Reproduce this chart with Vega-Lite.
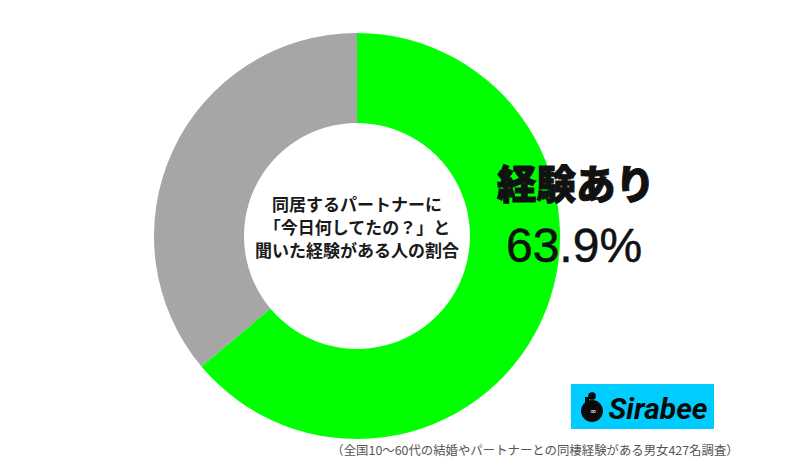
{
  "$schema": "https://vega.github.io/schema/vega-lite/v6.json",
  "width": 714,
  "height": 472,
  "autosize": {"type": "none"},
  "padding": {"left": 0, "top": 0, "right": 86, "bottom": 3},
  "background": "white",
  "view": {"stroke": null},
  "layer": [
    {
      "data": {"values": [
        {"answer": "経験あり", "percent": 63.9, "rank": 1},
        {"answer": "経験なし", "percent": 36.1, "rank": 2}
      ]},
      "mark": {"type": "arc", "radius": 203, "radius2": 113},
      "encoding": {
        "theta": {"field": "percent", "type": "quantitative", "stack": true},
        "order": {"field": "rank", "type": "ordinal"},
        "color": {
          "field": "answer",
          "type": "nominal",
          "legend": null,
          "scale": {"domain": ["経験あり", "経験なし"], "range": ["#00ff00", "#a6a6a6"]}
        }
      }
    },
    {
      "data": {"values": [{"label": "同居するパートナーに\n「今日何してたの？」と\n聞いた経験がある人の割合"}]},
      "mark": {"type": "text", "x": 357, "y": 206, "lineBreak": "\n", "lineHeight": 23, "font": "Noto Sans CJK JP", "fontWeight": "bold", "fontSize": 17, "color": "#1a1a1a"},
      "encoding": {"text": {"field": "label"}}
    },
    {
      "data": {"values": [{"label": "経験あり"}]},
      "mark": {"type": "text", "x": 576, "y": 187, "font": "Noto Sans CJK JP", "fontWeight": 900, "fontSize": 39.5, "color": "#111111", "stroke": "#111111", "strokeWidth": 1},
      "encoding": {"text": {"field": "label"}}
    },
    {
      "data": {"values": [{"label": "63.9%"}]},
      "mark": {"type": "text", "x": 574, "y": 248, "font": "Liberation Sans", "fontSize": 48, "color": "#111111", "stroke": "#111111", "strokeWidth": 0.5},
      "encoding": {"text": {"field": "label"}}
    },
    {
      "data": {"values": [{"label": "（全国10～60代の結婚やパートナーとの同棲経験がある男女427名調査）"}]},
      "mark": {"type": "text", "x": 535, "y": 451, "font": "Noto Sans CJK JP", "fontSize": 12.4, "color": "#555555"},
      "encoding": {"text": {"field": "label"}}
    },
    {
      "data": {"values": [{"label": "logo"}]},
      "mark": {"type": "rect", "x": 571, "x2": 714, "y": 384, "y2": 429, "color": "#00ccff"}
    },
    {
      "data": {"values": [{"label": "logo"}]},
      "mark": {"type": "point", "x": 592, "y": 411, "size": 480, "shape": "circle", "filled": true, "opacity": 1, "color": "#0a0a0a"}
    },
    {
      "data": {"values": [{"label": "logo"}]},
      "mark": {"type": "point", "x": 592, "y": 396, "size": 60, "shape": "circle", "filled": true, "opacity": 1, "color": "#0a0a0a"}
    },
    {
      "data": {"values": [{"label": "logo"}]},
      "mark": {"type": "rect", "x": 585, "x2": 589, "y": 397, "y2": 406, "color": "#0a0a0a"}
    },
    {
      "data": {"values": [{"label": "∞"}]},
      "mark": {"type": "text", "x": 593, "y": 412, "font": "DejaVu Sans", "fontSize": 8, "color": "white"},
      "encoding": {"text": {"field": "label"}}
    },
    {
      "data": {"values": [{"label": "Sirabee"}]},
      "mark": {"type": "text", "x": 658, "y": 410, "font": "Roboto", "fontStyle": "italic", "fontWeight": "bold", "fontSize": 30, "color": "#0a0a0a"},
      "encoding": {"text": {"field": "label"}}
    }
  ]
}
